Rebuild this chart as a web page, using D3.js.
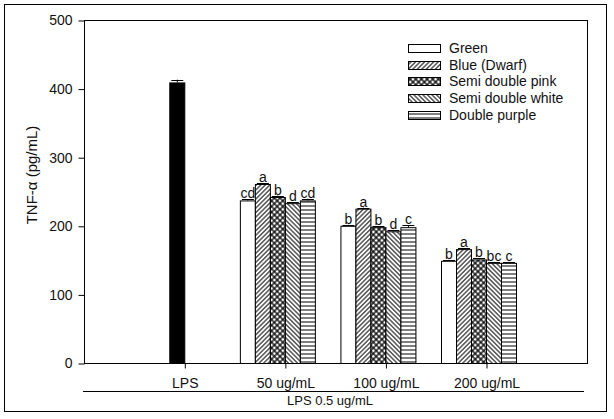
<!DOCTYPE html>
<html><head><meta charset="utf-8">
<script src="https://cdn.jsdelivr.net/npm/d3@7"></script>
<style>body{margin:0;background:#fff}svg{display:block;font-family:"Liberation Sans",Arial,sans-serif}</style>
</head><body>
<svg id="c" width="614" height="419"></svg>
<script>
const categories = ["LPS", "50 ug/mL", "100 ug/mL", "200 ug/mL"];
const series = ["Green", "Blue (Dwarf)", "Semi double pink", "Semi double white", "Double purple"];
const lpsValue = 409, lpsError = 4;
const values50 = [237, 261, 242, 233, 237];
const values100 = [200, 225, 198, 192, 198];
const values200 = [149, 166, 151, 146, 146];
const errors50 = [1.5, 1.5, 2, 1.5, 2.5];
const errors100 = [1.5, 1.5, 1.5, 2, 2.5];
const errors200 = [1.5, 1.5, 2, 1.5, 1.5];
const letters50 = ["cd", "a", "b", "d", "cd"];
const letters100 = ["b", "a", "b", "d", "c"];
const letters200 = ["b", "a", "b", "bc", "c"];
const yTicks = [0, 100, 200, 300, 400, 500];
const yLabel = "TNF-\u03b1  (pg/mL)";
const groupLabel = "LPS 0.5 ug/mL";

const svg = d3.select("#c");
const L = 84, T = 20, R = 587, B = 363;

// patterns
const defs = svg.append("defs");
function linePattern(id, angle, period, sw) {
  const p = defs.append("pattern").attr("id", id).attr("patternUnits", "userSpaceOnUse")
    .attr("width", period).attr("height", period)
    .attr("patternTransform", `rotate(${angle})`);
  p.append("rect").attr("width", period).attr("height", period).attr("fill", "#fff");
  p.append("line").attr("x1", period / 2).attr("y1", 0).attr("x2", period / 2).attr("y2", period)
    .attr("stroke", "#000").attr("stroke-width", sw);
}
linePattern("pBlue", 45, 3.2, 1);
linePattern("pWhite", -45, 3.2, 1);
linePattern("pPurple", 90, 4, 1);
{
  const p = defs.append("pattern").attr("id", "pPink").attr("patternUnits", "userSpaceOnUse")
    .attr("width", 4).attr("height", 4).attr("patternTransform", "rotate(45)");
  p.append("rect").attr("width", 4).attr("height", 4).attr("fill", "#fff");
  p.append("line").attr("x1", 2).attr("y1", 0).attr("x2", 2).attr("y2", 4).attr("stroke", "#000").attr("stroke-width", 1.3);
  p.append("line").attr("x1", 0).attr("y1", 2).attr("x2", 4).attr("y2", 2).attr("stroke", "#000").attr("stroke-width", 1.3);
}
const fills = ["#fff", "url(#pBlue)", "url(#pPink)", "url(#pWhite)", "url(#pPurple)"];

// outer frame
svg.append("rect").attr("x", 4.5).attr("y", 4.5).attr("width", 602).attr("height", 407)
  .attr("fill", "none").attr("stroke", "#000").attr("stroke-width", 1);

const y = d3.scaleLinear().domain([0, 500]).range([B, T]);
const x = d3.scalePoint().domain(categories).range([184.3, 486]);
const inner = d3.scaleBand().domain([...series, "_"]).range([-45, 45]);
const bw = inner.bandwidth();

// plot frame
svg.append("rect").attr("x", L + 0.5).attr("y", T + 0.5).attr("width", R - L).attr("height", B - T)
  .attr("fill", "none").attr("stroke", "#000").attr("stroke-width", 1);

// y axis
const ya = svg.append("g").attr("transform", `translate(${L + 0.5},0.5)`)
  .call(d3.axisLeft(y).tickValues(yTicks).tickSize(6).tickPadding(6).tickFormat(d3.format("d")));
ya.select(".domain").remove();
ya.selectAll("text").attr("font-size", 14).attr("fill", "#111").attr("font-family", "Liberation Sans, Arial, sans-serif");

// x axis
const xa = svg.append("g").attr("transform", `translate(0.5,${B + 0.5})`)
  .call(d3.axisBottom(x).tickSize(5).tickPadding(10));
xa.select(".domain").remove();
xa.selectAll("text").attr("font-size", 14).attr("fill", "#111").attr("font-family", "Liberation Sans, Arial, sans-serif");

// bars data
const groups = [
  { cat: categories[1], vals: values50, errs: errors50, lets: letters50 },
  { cat: categories[2], vals: values100, errs: errors100, lets: letters100 },
  { cat: categories[3], vals: values200, errs: errors200, lets: letters200 }
];
const bars = [];
bars.push({ x: x(categories[0]) + inner(series[2]), v: lpsValue, e: lpsError, fill: "#000", lab: "" });
groups.forEach(g => g.vals.forEach((v, i) => bars.push({
  x: x(g.cat) + inner(series[i]), v, e: g.errs[i], fill: fills[i], lab: g.lets[i]
})));

const bg = svg.append("g");
bars.forEach(b => {
  bg.append("rect").attr("x", b.x + 0.5).attr("y", y(b.v) + 0.5).attr("width", bw).attr("height", y(0) - y(b.v))
    .attr("fill", b.fill).attr("stroke", "#000").attr("stroke-width", 1);
  const cx = b.x + bw / 2 + 0.5;
  bg.append("line").attr("x1", cx).attr("x2", cx).attr("y1", y(b.v)).attr("y2", y(b.v + b.e))
    .attr("stroke", "#000").attr("stroke-width", 1);
  bg.append("line").attr("x1", cx - 6).attr("x2", cx + 6).attr("y1", Math.round(y(b.v + b.e)) + 0.5).attr("y2", Math.round(y(b.v + b.e)) + 0.5)
    .attr("stroke", "#000").attr("stroke-width", 1);
  if (b.lab) bg.append("text").attr("x", cx).attr("y", y(b.v + b.e) - 1).attr("text-anchor", "middle")
    .attr("font-size", 14).attr("fill", "#111").text(b.lab);
});

// y label
svg.append("text").attr("transform", `translate(37,175) rotate(-90)`).attr("text-anchor", "middle")
  .attr("font-size", 15).attr("fill", "#111").text(yLabel);

// lower group line and label
svg.append("line").attr("x1", 83).attr("x2", 584).attr("y1", 391.5).attr("y2", 391.5)
  .attr("stroke", "#000").attr("stroke-width", 1);
svg.append("text").attr("x", 330).attr("y", 405).attr("text-anchor", "middle")
  .attr("font-size", 13).attr("fill", "#111").text(groupLabel);

// legend
const lg = svg.append("g");
series.forEach((s, i) => {
  const cy = 48 + i * 16.7;
  lg.append("rect").attr("x", 408.5).attr("y", Math.round(cy - 4) + 0.5).attr("width", 32).attr("height", 8)
    .attr("fill", fills[i]).attr("stroke", "#000").attr("stroke-width", 1);
  lg.append("text").attr("x", 449).attr("y", cy + 5).attr("font-size", 14).attr("fill", "#111").text(s);
});
</script>
</body></html>
